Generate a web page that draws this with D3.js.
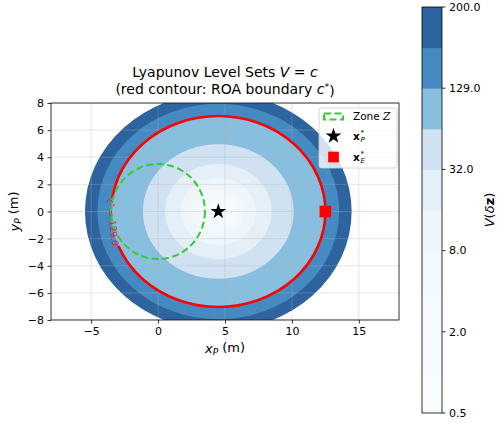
<!DOCTYPE html>
<html>
<head>
<meta charset="utf-8">
<script src="https://cdn.jsdelivr.net/npm/d3@7"></script>
<style>
  body { margin: 0; background: #fff; }
  text { font-family: "DejaVu Sans", sans-serif; fill: #000; }
</style>
</head>
<body>
<div id="vis"></div>
<script>
// ---- data ----
var xDomain = [-8, 18];
var yDomain = [-8, 8];
var xTicks = [-5, 0, 5, 10, 15];
var yTicks = [-8, -6, -4, -2, 0, 2, 4, 6, 8];
var levels = [0.5, 1, 2, 4, 8, 16, 32, 64, 129, 164.5, 200];
var cbarTicks = [0.5, 2, 8, 32, 129, 200];
var cStar = 129;
var xPStar = [4.5, 0];          // equilibrium / centre of level sets
var roaSemi = [8.0, 7.04];      // semi-axes (m) of the V = c* contour
var xEStar = [12.5, 0];
var zoneCenter = [0, 0];
var zoneRadius = 3.5;
var labelY = -0.8;              // where the c* label sits on the contour
var bluesHex = ['#f7fbff','#deebf7','#c6dbef','#9ecae1','#6baed6','#4292c6','#2171b5','#08519c','#08306b'];

var width = 497, height = 426;
var plot = {left: 51, right: 399, top: 103, bottom: 320};

var svg = d3.select('#vis').append('svg')
	.attr('width', width)
	.attr('height', height);

var x = d3.scaleLinear().domain(xDomain).range([plot.left, plot.right]);
var y = d3.scaleLinear().domain(yDomain).range([plot.bottom, plot.top]);

var blues = d3.scaleLinear()
	.domain(d3.range(bluesHex.length).map(function(i) { return i / (bluesHex.length - 1); }))
	.range(bluesHex)
	.interpolate(d3.interpolateRgb);
var norm = d3.scaleLinear().domain([levels[0], levels[levels.length - 1]]);

// colour of layer i (between levels[i] and levels[i+1]), alpha .85 over white
function layerColor(i) {
	var mid = (levels[i] + levels[i + 1]) / 2;
	return d3.interpolateRgb('#ffffff', blues(norm(mid)))(0.85);
}

function semiPx(level) {
	var k = Math.sqrt(level / cStar);
	return [x(xPStar[0] + roaSemi[0] * k) - x(xPStar[0]), y(xPStar[1]) - y(xPStar[1] + roaSemi[1] * k)];
}

var defs = svg.append('defs');
defs.append('clipPath').attr('id', 'plotClip')
	.append('rect')
	.attr('x', plot.left).attr('y', plot.top)
	.attr('width', plot.right - plot.left).attr('height', plot.bottom - plot.top);

var g = svg.append('g').attr('clip-path', 'url(#plotClip)');

// filled level sets, outermost first
for (var i = levels.length - 2; i >= 0; i--) {
	var s = semiPx(levels[i + 1]);
	g.append('ellipse')
		.attr('cx', x(xPStar[0])).attr('cy', y(xPStar[1]))
		.attr('rx', s[0]).attr('ry', s[1])
		.style('fill', layerColor(i));
}
var s0 = semiPx(levels[0]);
g.append('ellipse')
	.attr('cx', x(xPStar[0])).attr('cy', y(xPStar[1]))
	.attr('rx', s0[0]).attr('ry', s0[1])
	.style('fill', '#fff');

// grid (above the fill, faint)
g.selectAll('.gx').data(xTicks).enter().append('line')
	.attr('x1', function(d) { return x(d); }).attr('x2', function(d) { return x(d); })
	.attr('y1', plot.top).attr('y2', plot.bottom)
	.style('stroke', '#b0b0b0').style('stroke-width', 0.8).style('opacity', 0.4);
g.selectAll('.gy').data(yTicks).enter().append('line')
	.attr('y1', function(d) { return y(d); }).attr('y2', function(d) { return y(d); })
	.attr('x1', plot.left).attr('x2', plot.right)
	.style('stroke', '#b0b0b0').style('stroke-width', 0.8).style('opacity', 0.4);

// c* label position and angle on the contour
function roaX(yv) {
	return xPStar[0] - roaSemi[0] * Math.sqrt(1 - Math.pow(yv / roaSemi[1], 2));
}
var lx = x(roaX(labelY)), ly = y(labelY);
var p1 = [x(roaX(labelY + 0.05)), y(labelY + 0.05)];
var p2 = [x(roaX(labelY - 0.05)), y(labelY - 0.05)];
var ang = Math.atan2(p2[1] - p1[1], p2[0] - p1[0]) * 180 / Math.PI;

var mask = defs.append('mask').attr('id', 'labelGap');
mask.append('rect').attr('x', 0).attr('y', 0).attr('width', width).attr('height', height).style('fill', '#fff');
mask.append('rect')
	.attr('x', -24).attr('y', -6).attr('width', 48).attr('height', 12)
	.attr('transform', 'translate(' + lx + ',' + ly + ') rotate(' + ang + ')')
	.style('fill', '#000');

var sr = semiPx(cStar);
g.append('ellipse')
	.attr('cx', x(xPStar[0])).attr('cy', y(xPStar[1]))
	.attr('rx', sr[0]).attr('ry', sr[1])
	.attr('mask', 'url(#labelGap)')
	.style('fill', 'none').style('stroke', '#ff0000').style('stroke-width', 2.6);

var lab = svg.append('text')
	.attr('transform', 'translate(' + (lx + 1.5) + ',' + ly + ') rotate(' + ang + ')')
	.attr('text-anchor', 'middle')
	.attr('dy', '0.35em')
	.style('font-size', '9px')
	.style('fill', '#e8202a');
lab.append('tspan').style('font-style', 'italic').style('fill', '#e8202a').text('c');
lab.append('tspan').attr('dy', '-0.35em').style('font-size', '6.5px').style('fill', '#e8202a').text('*');
lab.append('tspan').attr('dy', '0.35em').style('fill', '#e8202a').text(' = 129.0');

// zone Z
g.append('ellipse')
	.attr('cx', x(zoneCenter[0])).attr('cy', y(zoneCenter[1]))
	.attr('rx', x(zoneCenter[0] + zoneRadius) - x(zoneCenter[0]))
	.attr('ry', y(zoneCenter[1]) - y(zoneCenter[1] + zoneRadius))
	.style('fill', 'none').style('stroke', '#32cd32').style('stroke-width', 2)
	.style('stroke-dasharray', '7,3.5');

// markers
var starPath = d3.symbol().type(d3.symbolStar).size(78);
var squarePath = d3.symbol().type(d3.symbolSquare).size(135);
g.append('path')
	.attr('d', starPath())
	.attr('transform', 'translate(' + x(xPStar[0]) + ',' + y(xPStar[1]) + ')')
	.style('fill', '#000');
g.append('path')
	.attr('d', squarePath())
	.attr('transform', 'translate(' + x(xEStar[0]) + ',' + y(xEStar[1]) + ')')
	.style('fill', '#ff0000');

// axes
var xAxis = svg.append('g')
	.attr('transform', 'translate(0,' + plot.bottom + ')')
	.call(d3.axisBottom(x).tickValues(xTicks).tickSize(3.5).tickPadding(3.5).tickSizeOuter(0));
var yAxis = svg.append('g')
	.attr('transform', 'translate(' + plot.left + ',0)')
	.call(d3.axisLeft(y).tickValues(yTicks).tickSize(3.5).tickPadding(3.5).tickSizeOuter(0));
[xAxis, yAxis].forEach(function(a) {
	a.select('.domain').remove();
	a.selectAll('text').style('font-size', '11px').style('font-family', '"DejaVu Sans", sans-serif');
	a.selectAll('line').style('stroke', '#000').style('stroke-width', 0.8);
});

svg.append('rect')
	.attr('x', plot.left).attr('y', plot.top)
	.attr('width', plot.right - plot.left).attr('height', plot.bottom - plot.top)
	.style('fill', 'none').style('stroke', '#000').style('stroke-width', 0.8);

// axis labels
var xl = svg.append('text')
	.attr('x', (plot.left + plot.right) / 2).attr('y', 353)
	.attr('text-anchor', 'middle').style('font-size', '13px');
xl.append('tspan').style('font-style', 'italic').text('x');
xl.append('tspan').attr('dy', '0.25em').style('font-size', '9px').style('font-style', 'italic').text('P');
xl.append('tspan').attr('dy', '-0.25em').text(' (m)');

var yl = svg.append('text')
	.attr('transform', 'translate(19,' + ((plot.top + plot.bottom) / 2) + ') rotate(-90)')
	.attr('text-anchor', 'middle').style('font-size', '13px');
yl.append('tspan').style('font-style', 'italic').text('y');
yl.append('tspan').attr('dy', '0.25em').style('font-size', '9px').style('font-style', 'italic').text('P');
yl.append('tspan').attr('dy', '-0.25em').text(' (m)');

// title
var t1 = svg.append('text')
	.attr('x', (plot.left + plot.right) / 2).attr('y', 77)
	.attr('text-anchor', 'middle').style('font-size', '14px');
t1.append('tspan').text('Lyapunov Level Sets ');
t1.append('tspan').style('font-style', 'italic').text('V');
t1.append('tspan').text(' = ');
t1.append('tspan').style('font-style', 'italic').text('c');
var t2 = svg.append('text')
	.attr('x', (plot.left + plot.right) / 2).attr('y', 94)
	.attr('text-anchor', 'middle').style('font-size', '14px');
t2.append('tspan').text('(red contour: ROA boundary ');
t2.append('tspan').style('font-style', 'italic').text('c');
t2.append('tspan').attr('dy', '-0.4em').style('font-size', '9.5px').text('*');
t2.append('tspan').attr('dy', '0.4em').text(')');

// legend
var leg = svg.append('g').attr('transform', 'translate(319,108)');
leg.append('rect')
	.attr('width', 78).attr('height', 60).attr('rx', 2.5)
	.style('fill', '#fff').style('fill-opacity', 0.8)
	.style('stroke', '#cccccc').style('stroke-width', 0.8);
leg.append('rect')
	.attr('x', 5).attr('y', 5.5).attr('width', 19).attr('height', 6)
	.style('fill', 'none').style('stroke', '#32cd32').style('stroke-width', 2)
	.style('stroke-dasharray', '7,3.5');
leg.append('path').attr('d', starPath()).attr('transform', 'translate(14.5,28)').style('fill', '#000');
leg.append('path').attr('d', d3.symbol().type(d3.symbolSquare).size(115)()).attr('transform', 'translate(14.5,49)').style('fill', '#ff0000');

var lt1 = leg.append('text').attr('x', 34).attr('y', 12).style('font-size', '10.5px');
lt1.append('tspan').text('Zone ');
lt1.append('tspan').style('font-family', '"DejaVu Serif", serif').style('font-style', 'italic').text('Z');

function boldSub(yb, sub) {
	leg.append('text').attr('x', 34).attr('y', yb).style('font-size', '10.5px').style('font-weight', 'bold').text('x');
	leg.append('text').attr('x', 41.5).attr('y', yb - 5).style('font-size', '7px').text('*');
	leg.append('text').attr('x', 41.5).attr('y', yb + 2.5).style('font-size', '7px').style('font-style', 'italic').text(sub);
}
boldSub(31.5, 'P');
boldSub(52.5, 'E');

// colorbar
var cb = {left: 422, right: 442, top: 7, bottom: 413};
var cy = d3.scalePoint().domain(levels).range([cb.bottom, cb.top]);
var cbg = svg.append('g');
cbg.selectAll('.seg').data(d3.range(levels.length - 1)).enter().append('rect')
	.attr('x', cb.left)
	.attr('y', function(i) { return cy(levels[i + 1]); })
	.attr('width', cb.right - cb.left)
	.attr('height', function(i) { return cy(levels[i]) - cy(levels[i + 1]) + 0.5; })
	.style('fill', function(i) { return layerColor(i); });
cbg.append('rect')
	.attr('x', cb.left).attr('y', cb.top)
	.attr('width', cb.right - cb.left).attr('height', cb.bottom - cb.top)
	.style('fill', 'none').style('stroke', '#000').style('stroke-width', 0.8);
cbg.selectAll('.ct').data(cbarTicks).enter().append('line')
	.attr('x1', cb.right).attr('x2', cb.right + 3.5)
	.attr('y1', function(d) { return cy(d); }).attr('y2', function(d) { return cy(d); })
	.style('stroke', '#000').style('stroke-width', 0.8);
cbg.selectAll('.cl').data(cbarTicks).enter().append('text')
	.attr('x', cb.right + 7).attr('y', function(d) { return cy(d); })
	.attr('dy', '0.35em').style('font-size', '11px')
	.text(function(d) { return d3.format('.1f')(d); });

var cl = svg.append('text')
	.attr('transform', 'translate(494,' + ((cb.top + cb.bottom) / 2) + ') rotate(-90)')
	.attr('text-anchor', 'middle').style('font-size', '13px');
cl.append('tspan').style('font-style', 'italic').text('V');
cl.append('tspan').text('(');
cl.append('tspan').style('font-style', 'italic').text('δ');
cl.append('tspan').style('font-weight', 'bold').text('z');
cl.append('tspan').text(')');
</script>
</body>
</html>
